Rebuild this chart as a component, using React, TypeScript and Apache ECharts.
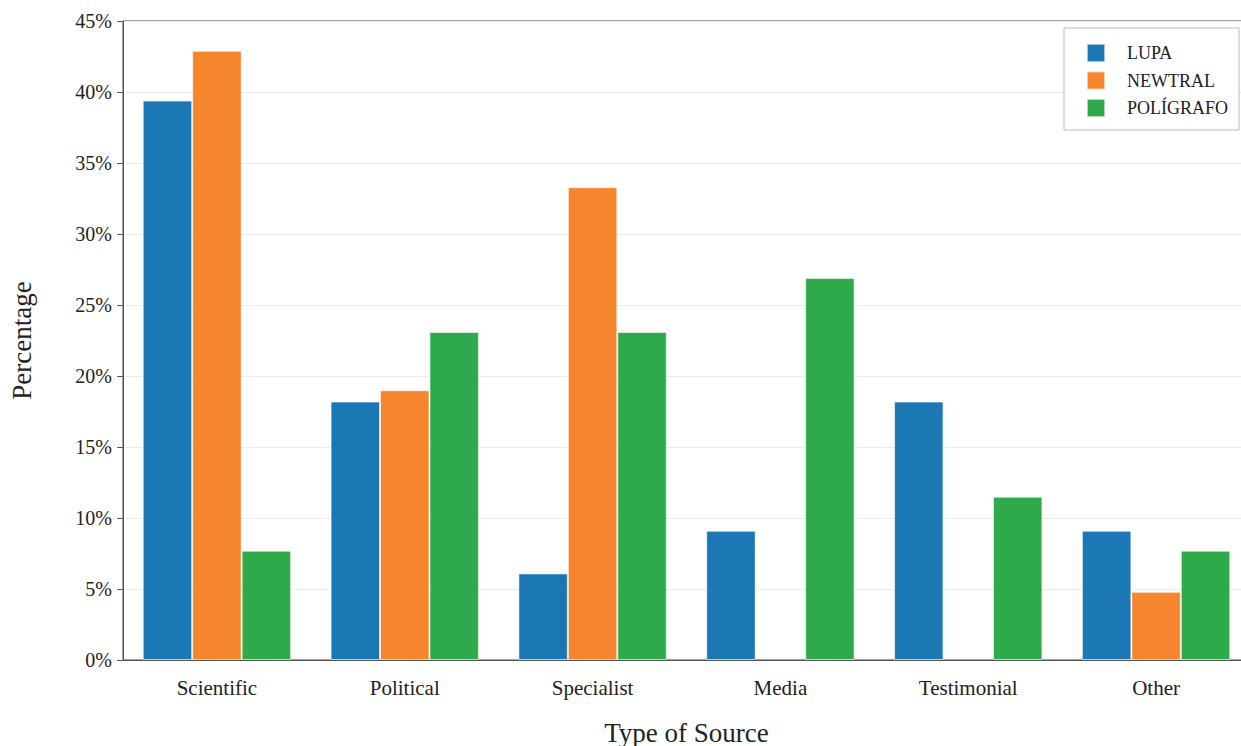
import React, { useEffect, useRef } from "react";
import * as echarts from "echarts";

const categories = ["Scientific", "Political", "Specialist", "Media", "Testimonial", "Other"];
const lupa = [39.4, 18.2, 6.1, 9.1, 18.2, 9.1];
const newtral = [42.9, 19.0, 33.3, 0, 0, 4.8];
const poligrafo = [7.7, 23.1, 23.1, 26.9, 11.5, 7.7];
const seriesNames = ["LUPA", "NEWTRAL", "POLÍGRAFO"];
const colors = ["#1b78b5", "#f5862f", "#2eaa4a"];

const FONT = "'Liberation Serif', 'DejaVu Serif', serif";

export default function App() {
  const ref = useRef<HTMLDivElement>(null);
  useEffect(() => {
    const chart = echarts.init(ref.current!, null, { renderer: "svg" });
    const mk = (name: string, data: number[], color: string) => ({
      name,
      type: "bar",
      data: data.map((v) => ({ value: v, itemStyle: { borderWidth: v === 0 ? 0 : 1 } })),
      barGap: "0%",
      barCategoryGap: "21%",
      itemStyle: { color, borderColor: "rgba(255,255,255,0.6)", borderWidth: 1 },
    });
    chart.setOption({
      animation: false,
      textStyle: { fontFamily: FONT },
      grid: {
        left: 123,
        top: 21,
        bottom: 86,
        right: -9,
        outerBoundsMode: "none",
        containLabel: false,
        show: true,
        borderColor: "#444",
        borderWidth: 1,
      },
      legend: {
        left: 1064,
        top: 28,
        orient: "vertical",
        padding: [15, 11, 12, 22],
        itemGap: 7.5,
        itemWidth: 18,
        itemHeight: 18,
        icon: "rect",
        borderColor: "#bbb",
        borderWidth: 1,
        backgroundColor: "#fff",
        textStyle: { fontFamily: FONT, fontSize: 18, lineHeight: 18, color: "#222", padding: [0, 0, 0, 17] },
        data: seriesNames,
      },
      xAxis: {
        type: "category",
        data: categories,
        name: "Type of Source",
        nameLocation: "middle",
        nameGap: 59,
        nameTextStyle: { fontFamily: FONT, fontSize: 27, color: "#222" },
        axisLine: { lineStyle: { color: "#555" } },
        axisTick: { alignWithLabel: true, length: 5, lineStyle: { color: "#555" } },
        axisLabel: { fontFamily: FONT, fontSize: 21, color: "#222", margin: 17 },
      },
      yAxis: {
        type: "value",
        min: 0,
        max: 45,
        interval: 5,
        name: "Percentage",
        nameLocation: "middle",
        nameGap: 88,
        nameRotate: 90,
        nameTextStyle: { fontFamily: FONT, fontSize: 27, color: "#222" },
        axisLine: { show: true, lineStyle: { color: "#555" } },
        axisTick: { show: true, length: 6, lineStyle: { color: "#555" } },
        axisLabel: { fontFamily: FONT, fontSize: 20, color: "#222", margin: 11, formatter: "{value}%" },
        splitLine: { lineStyle: { color: "#ebebeb" } },
      },
      series: [
        mk(seriesNames[0], lupa, colors[0]),
        mk(seriesNames[1], newtral, colors[1]),
        mk(seriesNames[2], poligrafo, colors[2]),
      ],
    });
    return () => chart.dispose();
  }, []);
  return (
    <div
      ref={ref}
      style={{ position: "absolute", left: 0, top: 0, width: 1241, height: 746, background: "#fff" }}
    />
  );
}
